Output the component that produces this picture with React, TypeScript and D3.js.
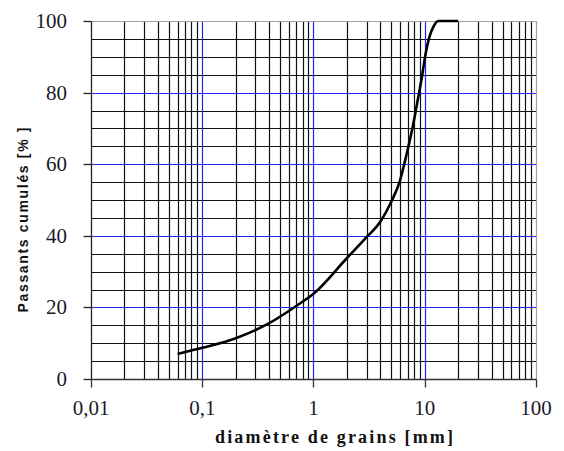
import * as d3 from "d3";
import { useEffect, useRef } from "react";

// grain size curve (mm -> % passing)
const diameters = [0.06, 0.1, 0.2, 0.4, 0.7, 1, 2, 3, 4, 5, 6, 6.6, 7.8, 8.6, 9.5, 10.2, 11, 12, 13.2, 20];
const passing = [7, 8.7, 11.4, 15.6, 20.4, 23.8, 33.8, 39.6, 44, 49.5, 55.5, 60.5, 70.5, 77.5, 85, 91, 95.5, 98.5, 100, 100];

const xTicks = [0.01, 0.1, 1, 10, 100];
const xTickLabels = ["0,01", "0,1", "1", "10", "100"];
const yTicks = [0, 20, 40, 60, 80, 100];
const yMinorStep = 5;

function GrainChart() {
	const ref = useRef<SVGSVGElement>(null);

	function draw() {
		const svg = d3.select(ref.current);
		svg.selectAll("*").remove();

		const x = d3.scaleLog().domain([0.01, 100]).range([91, 536]);
		const y = d3.scaleLinear().domain([0, 100]).range([379, 21]);
		const px = (v: number) => Math.round(x(v)) + 0.5;
		const py = (v: number) => Math.round(y(v)) + 0.5;

		// vertical grid: minor lines in each decade, blue at decades
		const minorX: number[] = [];
		xTicks.slice(0, -1).forEach((d) => {
			for (let k = 2; k <= 9; k++) minorX.push(d * k);
		});
		svg.append("g")
			.selectAll("line")
			.data(minorX)
			.enter()
			.append("line")
			.attr("x1", (d) => px(d))
			.attr("x2", (d) => px(d))
			.attr("y1", py(0))
			.attr("y2", py(100))
			.attr("stroke", "#111")
			.attr("stroke-width", 1.2);

		// horizontal grid every 5 %
		const minorY = d3.range(yMinorStep, 100, yMinorStep).filter((v) => v % 20 !== 0);
		svg.append("g")
			.selectAll("line")
			.data(minorY)
			.enter()
			.append("line")
			.attr("x1", px(0.01))
			.attr("x2", px(100))
			.attr("y1", (d) => py(d))
			.attr("y2", (d) => py(d))
			.attr("stroke", "#111")
			.attr("stroke-width", 1.2);

		svg.append("g")
			.selectAll("line")
			.data(yTicks.slice(1, -1))
			.enter()
			.append("line")
			.attr("x1", px(0.01))
			.attr("x2", px(100))
			.attr("y1", (d) => py(d))
			.attr("y2", (d) => py(d))
			.attr("stroke", "#2020ff")
			.attr("stroke-width", 1.2);

		svg.append("g")
			.selectAll("line")
			.data(xTicks.slice(1, -1))
			.enter()
			.append("line")
			.attr("x1", (d) => px(d))
			.attr("x2", (d) => px(d))
			.attr("y1", py(0))
			.attr("y2", py(100))
			.attr("stroke", "#2020ff")
			.attr("stroke-width", 1.2);

		// plot border top/right (grey)
		svg.append("path")
			.attr("d", `M${px(0.01)},${py(100)}H${px(100)}V${py(0)}`)
			.attr("fill", "none")
			.attr("stroke", "#a0a0a0")
			.attr("stroke-width", 1.2);

		// axes
		svg.append("line")
			.attr("x1", px(0.01))
			.attr("x2", px(0.01))
			.attr("y1", py(0))
			.attr("y2", py(100))
			.attr("stroke", "#222")
			.attr("stroke-width", 1.3);
		svg.append("line")
			.attr("x1", px(0.01))
			.attr("x2", px(100))
			.attr("y1", py(0))
			.attr("y2", py(0))
			.attr("stroke", "#333")
			.attr("stroke-width", 1.3);

		svg.append("g")
			.selectAll("line")
			.data(yTicks)
			.enter()
			.append("line")
			.attr("x1", px(0.01) - 8)
			.attr("x2", px(0.01))
			.attr("y1", (d) => py(d))
			.attr("y2", (d) => py(d))
			.attr("stroke", "#222")
			.attr("stroke-width", 1.3);

		svg.append("g")
			.selectAll("line")
			.data(xTicks)
			.enter()
			.append("line")
			.attr("x1", (d) => px(d))
			.attr("x2", (d) => px(d))
			.attr("y1", py(0))
			.attr("y2", py(0) + 8)
			.attr("stroke", "#333")
			.attr("stroke-width", 1.3);

		// tick labels
		svg.append("g")
			.selectAll("text")
			.data(yTicks)
			.enter()
			.append("text")
			.attr("x", 67)
			.attr("y", (d) => y(d) + 7)
			.attr("text-anchor", "end")
			.style("font-family", "'Liberation Serif', serif")
			.style("font-size", "21px")
			.attr("fill", "#1a1a2a")
			.text((d) => d);

		svg.append("g")
			.selectAll("text")
			.data(xTicks)
			.enter()
			.append("text")
			.attr("x", (d) => x(d))
			.attr("y", 415)
			.attr("text-anchor", "middle")
			.style("font-family", "'Liberation Serif', serif")
			.style("font-size", "21px")
			.attr("fill", "#1a1a2a")
			.text((d, i) => xTickLabels[i]);

		// axis titles
		svg.append("text")
			.attr("x", 215)
			.attr("y", 443)
			.attr("textLength", 238)
			.attr("lengthAdjust", "spacing")
			.style("font-family", "'Liberation Serif', serif")
			.style("font-size", "18px")
			.style("font-weight", "bold")
			.attr("fill", "#111")
			.text("diamètre de grains [mm]");

		svg.append("text")
			.attr("transform", "translate(28,220) rotate(-90)")
			.attr("text-anchor", "middle")
			.attr("textLength", 185)
			.attr("lengthAdjust", "spacing")
			.style("font-family", "'Liberation Sans', sans-serif")
			.style("font-size", "14px")
			.style("font-weight", "bold")
			.attr("fill", "#111")
			.text("Passants cumulés [% ]");

		// curve
		const line = d3
			.line<number>()
			.x((d) => x(d))
			.y((d, i) => y(passing[i]))
			.curve(d3.curveMonotoneX);
		svg.append("path")
			.attr("d", line(diameters))
			.attr("fill", "none")
			.attr("stroke", "#000")
			.attr("stroke-width", 2.6);
	}

	useEffect(() => {
		draw();
	}, []);

	return (
		<svg
			ref={ref}
			width={564}
			height={451}
			style={{ position: "absolute", left: 0, top: 0, background: "#fff" }}
		/>
	);
}

export default function App() {
	return <GrainChart />;
}
